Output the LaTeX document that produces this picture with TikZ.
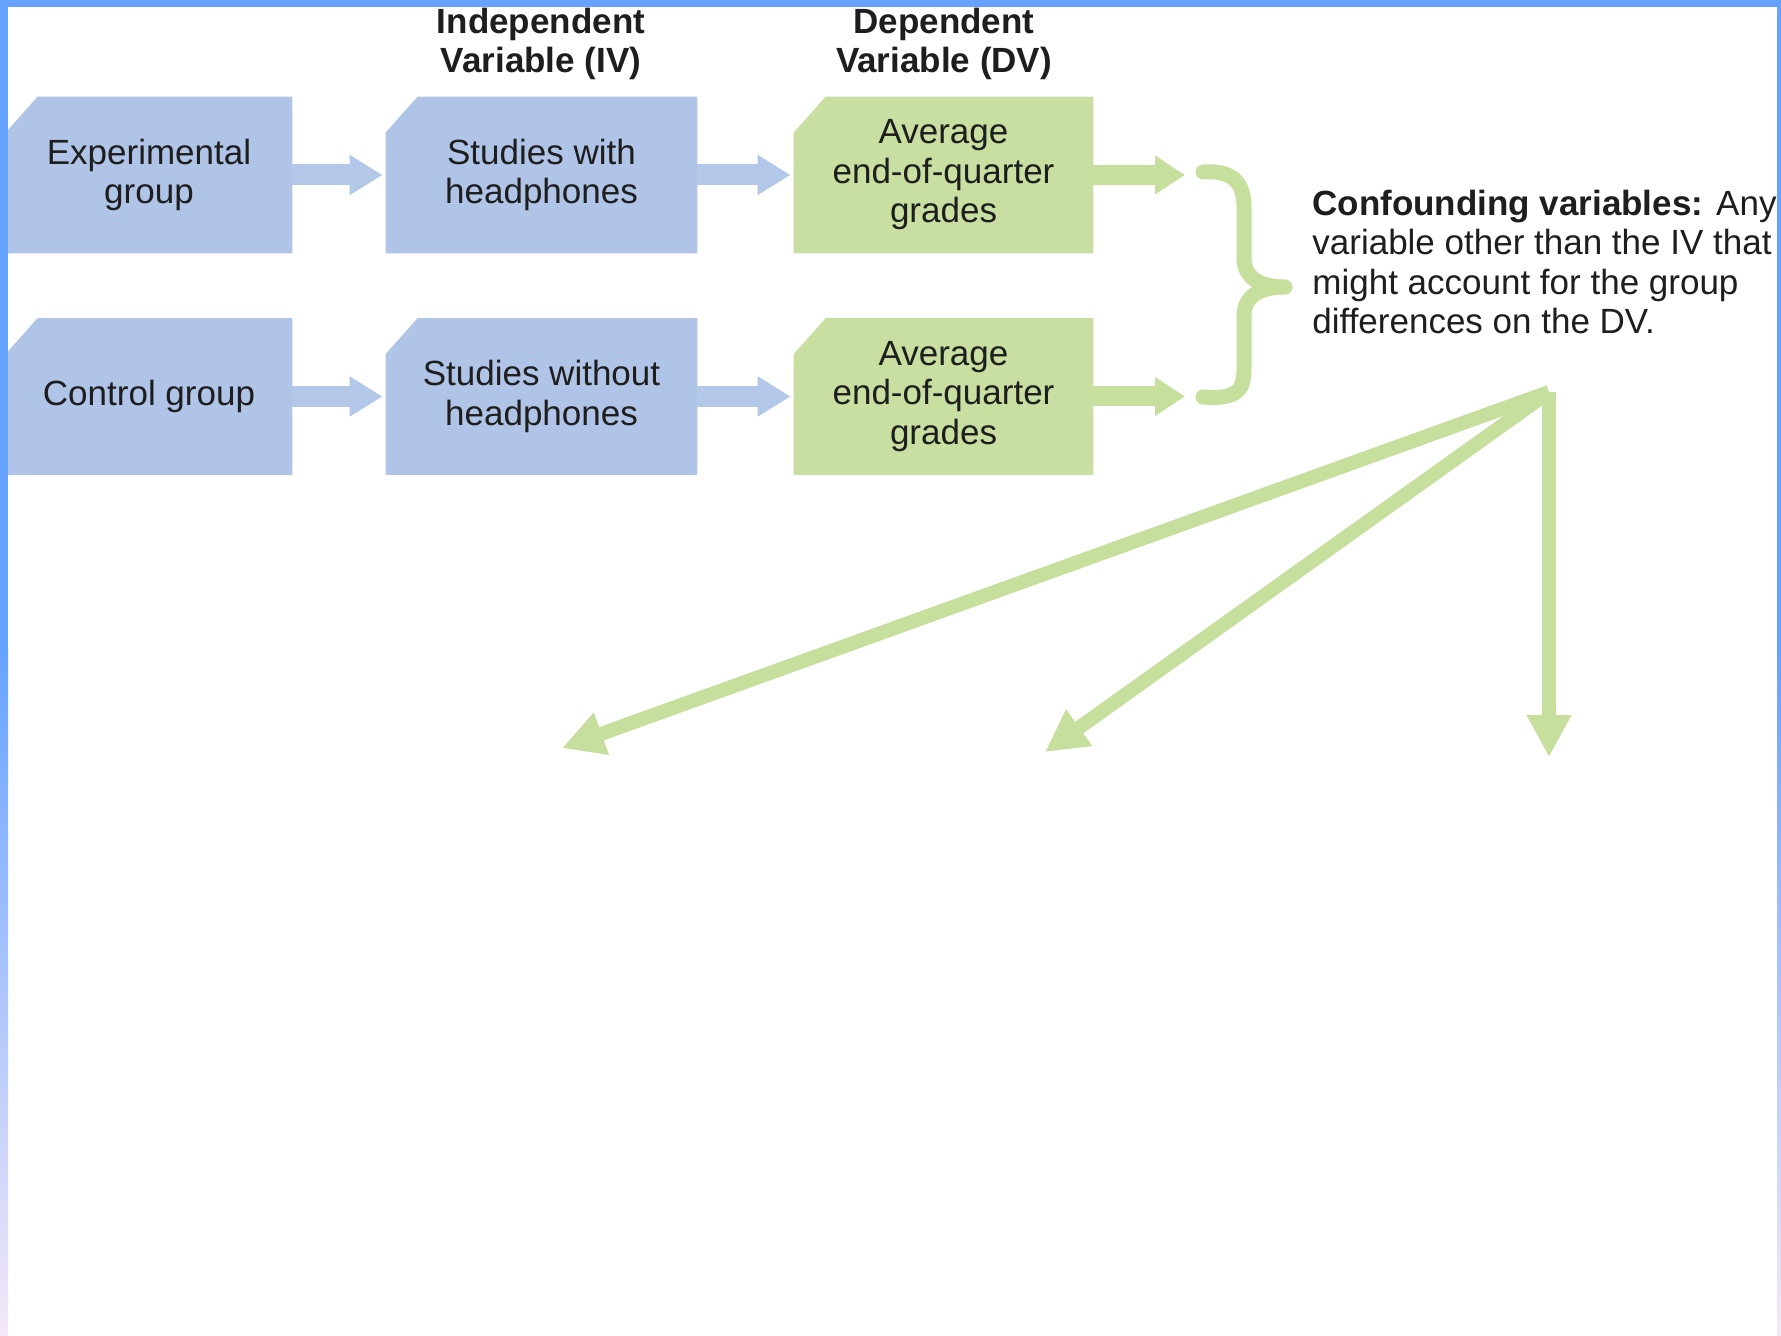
\documentclass[tikz,border=0pt]{standalone}
\usepackage{fontspec}
\setmainfont{Liberation Sans}
\usetikzlibrary{arrows.meta,calc}
\pgfdeclarelayer{background}
\pgfsetlayers{background,main}

\definecolor{boxblue}{HTML}{AFC4E6}
\definecolor{arrowblue}{HTML}{B3C8E9}
\definecolor{boxgreen}{HTML}{C9DFA1}
\definecolor{arrowgreen}{HTML}{C6DF9C}
\definecolor{frameblue}{HTML}{66A3FF}
\definecolor{framepink}{HTML}{F4E8F8}
\definecolor{ink}{HTML}{1E1E1E}

% chamfered fill behind a named node (top-left corner cut off)
\newcommand\chamferfill[2]{%
  \fill[#2] ($(#1.north west)+(32,0)$) -- (#1.north east) -- (#1.south east)
    -- (#1.south west) -- ($(#1.north west)+(0,36)$) -- cycle;}

\tikzset{
  boxtext/.style={inner sep=0pt, align=center, text=ink,
    font=\fontsize{17.5}{19.75}\selectfont, minimum height=78pt},
  headtext/.style={inner sep=0pt, align=center, text=ink,
    font=\fontsize{17.5}{19.75}\selectfont\bfseries},
  notetext/.style={inner sep=0pt, align=left, text=ink,
    font=\fontsize{17.5}{19.75}\selectfont},
  bluearrow/.style={draw=arrowblue, line width=10.5pt,
    -{Triangle[length=16.5pt,width=19pt]}, shorten >=1.5pt},
  greenarrow/.style={draw=arrowgreen, line width=10pt,
    -{Triangle[length=15pt,width=18.5pt]}},
  fanarrow/.style={draw=arrowgreen, line width=7pt,
    -{Triangle[length=21pt,width=21pt]}},
}

\begin{document}
\begin{tikzpicture}[x=0.5pt,y=-0.5pt]
\useasboundingbox (0,0) rectangle (1781,1336);

% column headings
\node[headtext] (ivhead) at (541,44) {Independent\\Variable (IV)};
\node[headtext] (dvhead) at (944,44) {Dependent\\Variable (DV)};

% boxes, experimental row
\node[boxtext, minimum width=143pt] (exp) at (149,175) {Experimental\\group};
\node[boxtext, minimum width=155.5pt] (ivexp) at (541.5,175) {Studies with\\headphones};
\node[boxtext, minimum width=149.5pt] (dvexp) at (943.5,175) {Average\\end-of-quarter\\grades};

% boxes, control row
\node[boxtext, minimum width=143pt] (ctl) at (149,396.5) {Control group};
\node[boxtext, minimum width=155.5pt] (ivctl) at (541.5,396.5) {Studies without\\headphones};
\node[boxtext, minimum width=149.5pt] (dvctl) at (943.5,396.5) {Average\\end-of-quarter\\grades};

\begin{pgfonlayer}{background}
  \fill[white] (0,0) rectangle (1781,1336);
  \chamferfill{exp}{boxblue}
  \chamferfill{ivexp}{boxblue}
  \chamferfill{dvexp}{boxgreen}
  \chamferfill{ctl}{boxblue}
  \chamferfill{ivctl}{boxblue}
  \chamferfill{dvctl}{boxgreen}
\end{pgfonlayer}

% flow arrows
\draw[bluearrow] (exp.east) -- (ivexp.west);
\draw[bluearrow] (ivexp.east) -- (dvexp.west);
\draw[bluearrow] (ctl.east) -- (ivctl.west);
\draw[bluearrow] (ivctl.east) -- (dvctl.west);

\coordinate (outexp) at (1185,175);
\coordinate (outctl) at (1185,396.5);
\draw[greenarrow] (dvexp.east) -- (outexp);
\draw[greenarrow] (dvctl.east) -- (outctl);

% brace joining both outcomes
\draw[arrowgreen, line width=7.5pt, line cap=round, line join=round]
  (1203,172) .. controls (1232,170) and (1244,182) .. (1244,207)
  -- (1244,258) .. controls (1244,278) and (1260,287) .. (1285,287)
  .. controls (1260,287) and (1244,296) .. (1244,316)
  -- (1244,370) .. controls (1244,394) and (1232,399) .. (1203,397);

% definition text
\node[notetext, anchor=west] (conf) at (1312,262)
  {\textbf{Confounding variables:} Any\\variable other than the IV that\\might account for the group\\differences on the DV.};

% fan of arrows
\coordinate (apex) at (1549,392);
\coordinate (t1) at (562,748);
\coordinate (t2) at (1045,752);
\coordinate (t3) at (1549,757);
\draw[fanarrow] (apex) -- (t1);
\draw[fanarrow] (apex) -- (t2);
\draw[fanarrow] (apex) -- (t3);

% frame
\fill[frameblue] (0,0) rectangle (1781,7);
\fill[frameblue] (0,0) rectangle (8,650);
\shade[top color=frameblue, bottom color=framepink] (0,649) rectangle (8,1336);
\fill[frameblue] (1777,0) rectangle (1781,650);
\shade[top color=frameblue, bottom color=framepink] (1777,649) rectangle (1781,1336);
\end{tikzpicture}
\end{document}
